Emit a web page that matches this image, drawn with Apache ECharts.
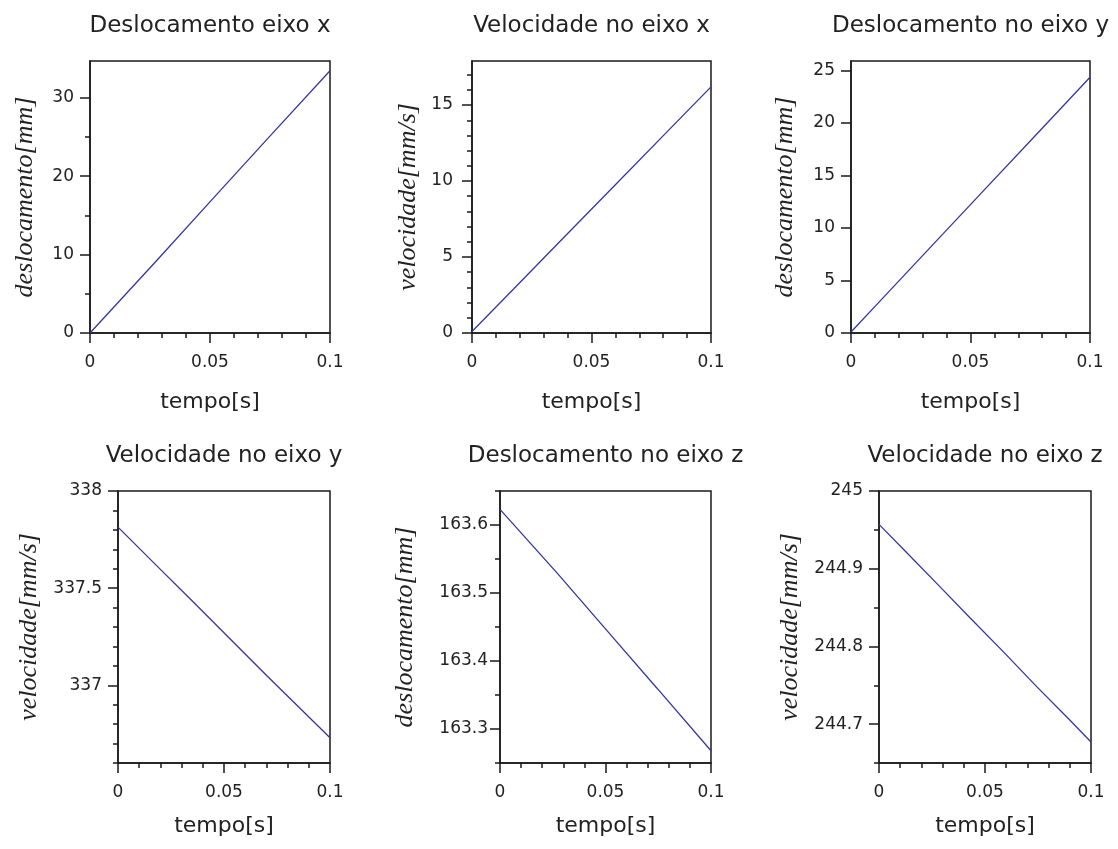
<!DOCTYPE html>
<html>
<head>
<meta charset="utf-8">
<script src="https://cdn.jsdelivr.net/npm/echarts@6/dist/echarts.min.js"></script>
<style>
  html, body { margin: 0; padding: 0; background: #fff; }
  #chart { width: 1118px; height: 849px; }
</style>
</head>
<body>
<div id="chart"></div>
<script>
// values (time in s)
const tempoDeslX = [0, 0.0278, 0.0514, 0.0743, 0.1];
const deslX = [0, 9.25, 17.2, 24.9, 33.46];

const tempoVelX = [0, 0.0174, 0.0388, 0.0604, 0.0823, 0.1];
const velX = [0.1, 2.9, 6.35, 9.82, 13.35, 16.2];

const tempoDeslY = [0, 0.0128, 0.0331, 0.054, 0.0749, 0.0958, 0.1];
const deslY = [0.1, 3.2, 8.13, 13.2, 18.26, 23.33, 24.35];

const tempoVelY = [0, 0.0181, 0.0354, 0.0701, 0.1];
const velY = [337.814, 337.617, 337.43, 337.05, 336.73];

const tempoDeslZ = [0, 0.0269, 0.0506, 0.0744, 0.1];
const deslZ = [163.623, 163.53, 163.445, 163.36, 163.268];

const tempoVelZ = [0, 0.0137, 0.0287, 0.0429, 0.0587, 0.0745, 0.0894, 0.1];
const velZ = [244.957, 244.919, 244.877, 244.837, 244.793, 244.748, 244.707, 244.677];

// tick labels
const xTicks = [0, 0.05, 0.1];
const xMinor = [0.01, 0.02, 0.03, 0.04, 0.06, 0.07, 0.08, 0.09];

const yTicksDeslX = [0, 10, 20, 30];
const yMinorDeslX = [5, 15, 25];
const yTicksVelX = [0, 5, 10, 15];
const yMinorVelX = [1, 2, 3, 4, 6, 7, 8, 9, 11, 12, 13, 14, 16, 17];
const yTicksDeslY = [0, 5, 10, 15, 20, 25];
const yMinorDeslY = [];
const yTicksVelY = [337, 337.5, 338];
const yMinorVelY = [336.6, 336.7, 336.8, 336.9, 337.1, 337.2, 337.3, 337.4, 337.6, 337.7, 337.8, 337.9];
const yTicksDeslZ = [163.3, 163.4, 163.5, 163.6];
const yMinorDeslZ = [163.25, 163.35, 163.45, 163.55, 163.65];
const yTicksVelZ = [244.7, 244.8, 244.9, 245];
const yMinorVelZ = [244.65, 244.75, 244.85, 244.95];

const plots = [
  { title: 'Deslocamento eixo x', yName: 'deslocamento[mm]', t: tempoDeslX, v: deslX,
    yMin: 0, yMax: 34.7, ticks: yTicksDeslX, minor: yMinorDeslX,
    grid: { left: 90, top: 61, width: 240, height: 272 }, yGap: 52, xGap: 58, lblMargin: 16 },
  { title: 'Velocidade no eixo x', yName: 'velocidade[mm/s]', t: tempoVelX, v: velX,
    yMin: 0, yMax: 17.9, ticks: yTicksVelX, minor: yMinorVelX,
    grid: { left: 472, top: 61, width: 239, height: 272 }, yGap: 51, xGap: 58, lblMargin: 19 },
  { title: 'Deslocamento no eixo y', yName: 'deslocamento[mm]', t: tempoDeslY, v: deslY,
    yMin: 0, yMax: 25.9, ticks: yTicksDeslY, minor: yMinorDeslY,
    grid: { left: 851, top: 61, width: 239, height: 272 }, yGap: 53, xGap: 58, lblMargin: 16 },
  { title: 'Velocidade no eixo y', yName: 'velocidade[mm/s]', t: tempoVelY, v: velY,
    yMin: 336.6, yMax: 338, ticks: yTicksVelY, minor: yMinorVelY,
    grid: { left: 118, top: 491, width: 212, height: 272 }, yGap: 76, xGap: 52, lblMargin: 16 },
  { title: 'Deslocamento no eixo z', yName: 'deslocamento[mm]', t: tempoDeslZ, v: deslZ,
    yMin: 163.25, yMax: 163.65, ticks: yTicksDeslZ, minor: yMinorDeslZ,
    grid: { left: 500, top: 491, width: 211, height: 272 }, yGap: 82, xGap: 52, lblMargin: 12 },
  { title: 'Velocidade no eixo z', yName: 'velocidade[mm/s]', t: tempoVelZ, v: velZ,
    yMin: 244.65, yMax: 245, ticks: yTicksVelZ, minor: yMinorVelZ,
    grid: { left: 879, top: 491, width: 212, height: 272 }, yGap: 76, xGap: 52, lblMargin: 16 }
];

const ink = '#1a1a1a';
const tickFont = { fontFamily: 'DejaVu Sans', fontSize: 17, color: '#222' };

const option = {
  backgroundColor: '#fff',
  animation: false,
  title: [], grid: [], xAxis: [], yAxis: [], series: []
};

plots.forEach((p, i) => {
  const g = p.grid;
  option.title.push({
    text: p.title,
    left: g.left + g.width / 2 - 5,
    top: g.top - 51,
    textAlign: 'center',
    textStyle: { fontFamily: 'DejaVu Sans', fontSize: 23, fontWeight: 'normal', color: '#222' }
  });
  option.grid.push({
    left: g.left, top: g.top, width: g.width, height: g.height,
    show: true, borderColor: ink, borderWidth: 1.5, backgroundColor: '#fff'
  });
  // main x axis
  option.xAxis.push({
    type: 'value', gridIndex: i, min: 0, max: 0.1, position: 'bottom',
    name: 'tempo[s]', nameLocation: 'middle', nameGap: p.xGap,
    nameTextStyle: { fontFamily: 'DejaVu Sans', fontSize: 22, color: '#222' },
    axisLine: { onZero: false, lineStyle: { color: ink, width: 1.5 } },
    axisTick: { customValues: xTicks, length: 10, lineStyle: { color: ink, width: 1.5 } },
    axisLabel: { customValues: xTicks, margin: 21, ...tickFont },
    splitLine: { show: false }
  });
  // minor x ticks
  option.xAxis.push({
    type: 'value', gridIndex: i, min: 0, max: 0.1, position: 'bottom',
    axisLine: { show: false, onZero: false },
    axisTick: { customValues: xMinor, length: 5, lineStyle: { color: ink, width: 1.5 } },
    axisLabel: { show: false },
    splitLine: { show: false }
  });
  // main y axis
  option.yAxis.push({
    type: 'value', gridIndex: i, min: p.yMin, max: p.yMax, position: 'left',
    name: p.yName, nameLocation: 'middle', nameGap: p.yGap,
    nameTextStyle: { fontFamily: 'Liberation Serif', fontStyle: 'italic', fontSize: 26, color: '#222' },
    axisLine: { onZero: false, lineStyle: { color: ink, width: 1.5 } },
    axisTick: { customValues: p.ticks, length: 10, lineStyle: { color: ink, width: 1.5 } },
    axisLabel: { customValues: p.ticks, margin: p.lblMargin, ...tickFont },
    splitLine: { show: false }
  });
  // minor y ticks
  option.yAxis.push({
    type: 'value', gridIndex: i, min: p.yMin, max: p.yMax, position: 'left',
    axisLine: { show: false, onZero: false },
    axisTick: { show: p.minor.length > 0, customValues: p.minor, length: 5, lineStyle: { color: ink, width: 1.5 } },
    axisLabel: { show: false },
    splitLine: { show: false }
  });
  option.series.push({
    type: 'line',
    xAxisIndex: 2 * i, yAxisIndex: 2 * i,
    data: p.t.map((t, k) => [t, p.v[k]]),
    showSymbol: false,
    lineStyle: { color: '#3636a2', width: 1.3 }
  });
});

const chart = echarts.init(document.getElementById('chart'));
chart.setOption(option);
</script>
</body>
</html>
